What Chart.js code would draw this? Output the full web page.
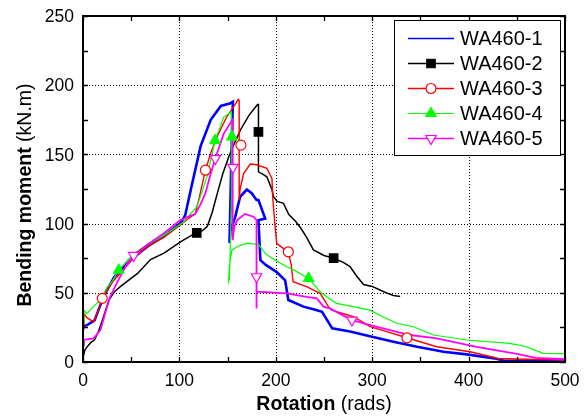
<!DOCTYPE html>
<html><head><meta charset="utf-8">
<script src="https://cdn.jsdelivr.net/npm/chart.js@4"></script>
<style>html,body{margin:0;padding:0;background:#fff}canvas{display:block}</style>
</head><body>
<canvas id="c" width="584" height="419"></canvas>
<script>
// ---- data (rotation in rads, bending moment in kN.m) ----
const seriesNames = ['WA460-1', 'WA460-2', 'WA460-3', 'WA460-4', 'WA460-5'];

const wa1 = [[0,25.6],[5,27],[12,30],[19,43],[25,52],[32.5,61.6],[50,74],[67,83.5],[84,91],[101.5,100.6],[106,106],
  [112,125],[122,156],[132.5,175],[143,185],[153,187],[155.5,188],[154,150],[152,86],[153,95],[158,105],[163,119.4],
  [170,124.6],[175,122],[180,117],[182,117],[189,103.7],[182,102.5],[184,73.6],[190,70],[201,65],[209.7,59],[213,44.8],
  [228.7,40],[240,38],[248,36.3],[258.5,24.3],[277,22],[301,18],[322,14.7],[346.5,11],[374,7.4],[398,5.5],[429,2.3],
  [436,1],[460,0.6],[500,0.4]];

const wa2 = [[0,3],[2,9],[8,14],[12,16],[16,22],[20,30],[27,45],[33,51],[39,54.6],[56.6,64],[70,74],[84,78.7],
  [101.5,87],[117,93.3],[124,95],[129,98],[134,108],[139.4,122],[145,136],[151.5,148.8],[157,158],[163.6,168],
  [172,178],[181,186],[182,186],[182,137.4],[186,136],[190.7,133.8],[196,124.6],[197.6,119.4],[201.5,116],[208,114.6],
  [213.5,106.5],[220,102],[225.7,97],[232,90],[239,81],[250,77],[260,75],[270,72],[277,69],[284,62],[291,56],
  [300,54.6],[308,52],[315.4,49.8],[322,48],[329,47.3]];

const wa3 = [[0,24],[1,35],[4,32],[11,29],[16,37.5],[20,46],[26,53],[32,59],[40,65],[52,75],[67,83.5],[84,90],
  [101,99],[110,104],[116.4,107],[121,120],[127,138.6],[133,152],[139,162.7],[149,177],[155,183],[161,189.7],
  [162,189],[162,117],[163,125],[166.5,136],[173.5,143],[180,142.5],[190.7,140],[196,132.6],[197,117],[199,100],
  [201,85.7],[206,83],[213,79.6],[216,70],[218,58],[232,54.4],[246,49.6],[254.6,40],[258,37.5],[280.5,32.7],
  [298,25.5],[315,22],[336,17.5],[367,11],[401.5,7.4],[425.7,3.4],[430,2.5],[460,2],[500,1.5]];

const wa4 = [[0,28],[1,37.5],[4,35],[11,40],[18,44.8],[25,54],[30,58],[37,66.4],[52.5,78.5],[67,85],[84,91.5],
  [104,101],[118,112],[123,122],[128.5,133.8],[137,160],[146,177],[153.7,180.7],[154,120],[152,60],[151,58],
  [152,70],[154.5,81],[162,84],[170,85.7],[182,85],[189,78.5],[196,75],[211.5,68.8],[220,66],[234,60.4],[246,50.8],
  [253,47],[263,42.4],[280,40],[298,37.5],[310,33],[325.5,28],[343,25.5],[363.5,19.5],[398,15.9],[443,13.5],
  [460,11],[477.5,6.3],[500,6]];

const wa5 = [[0,12],[1,16],[11,17],[18,23],[23,35],[28,47],[35,57],[45,70],[52.5,77],[67,85],[84,93],[101,102.5],
  [116.5,107],[122,114],[127,122],[132,135],[137.2,147],[146,165],[155,175],[155.5,140.6],[155,88],[157,98],
  [160,102.5],[168,107],[177,105],[180,102.5],[180,38.7],[180,50.8],[211.5,49.6],[232,47],[242.6,46],[249.5,40],
  [256,38.7],[279,30.3],[298,26.7],[339,19.5],[367,17],[408.5,11],[450,5.8],[470,3],[500,2]];

// symbol positions along each curve
const marks1 = [];
const marks2 = [[118,93.3],[182,166.3],[260,75]];
const marks3 = [[20,46],[127,138.6],[163.8,156.7],[213,79.6],[336,17.5]];
const marks4 = [[37,66.4],[137,160],[154.5,162.7],[234,60.4]];
const marks5 = [[52.5,77],[137.2,147],[155.5,140.6],[180,61.6],[279,30.3]];

const xTickValues = [0, 100, 200, 300, 400, 500];
const yTickValues = [0, 50, 100, 150, 200, 250];
const xTitleBold = 'Rotation', xTitleUnit = ' (rads)';
const yTitleBold = 'Bending moment', yTitleUnit = ' (kN.m)';

// ---- styles ----
const styles = [
  {color:'#0000FF', width:2.6, style:false, rot:0, r:0, fill:'#0000FF'},
  {color:'#000000', width:1.5, style:'rect', rot:0, r:6, fill:'#000000'},
  {color:'#FF0000', width:1.4, style:'circle', rot:0, r:5, fill:'#FFFFFF'},
  {color:'#00FF00', width:1.2, style:'triangle', rot:0, r:6, fill:'#00FF00'},
  {color:'#FF00FF', width:1.8, style:'triangle', rot:180, r:6, fill:'#FFFFFF'}
];
const lines = [wa1, wa2, wa3, wa4, wa5];
const marks = [marks1, marks2, marks3, marks4, marks5];
const toXY = a => a.map(p => ({x:p[0], y:p[1]}));

const datasets = [];
lines.forEach((d, i) => {
  datasets.push({label: seriesNames[i], data: toXY(d), showLine: true, borderColor: styles[i].color,
    borderWidth: styles[i].width, pointRadius: 0, tension: 0, order: 10 + (4 - i)});
});
marks.forEach((d, i) => {
  if (!d.length) return;
  datasets.push({label: seriesNames[i] + ' symbols', data: toXY(d), showLine: false,
    pointStyle: styles[i].style, pointRotation: styles[i].rot, pointRadius: styles[i].r,
    pointBackgroundColor: styles[i].fill, pointBorderColor: styles[i].color, pointBorderWidth: 1.2, order: 4 - i});
});

const FONT = '"Liberation Sans", Arial, sans-serif';
const TICK_SIZE = 17.5;

const dottedGrid = {
  id: 'dottedGrid',
  beforeDatasetsDraw(chart) {
    const {ctx, chartArea: a, scales: {x, y}} = chart;
    ctx.save();
    ctx.strokeStyle = '#000'; ctx.lineWidth = 1;
    ctx.setLineDash([1, 2]);
    ctx.beginPath();
    xTickValues.slice(1, -1).forEach(v => {
      const px = Math.round(x.getPixelForValue(v)) + 0.5;
      ctx.moveTo(px, a.bottom); ctx.lineTo(px, a.top);
    });
    yTickValues.slice(1, -1).forEach(v => {
      const py = Math.round(y.getPixelForValue(v)) + 0.5;
      ctx.moveTo(a.left, py); ctx.lineTo(a.right, py);
    });
    ctx.stroke();
    ctx.restore();
  }
};

const decor = {
  id: 'decor',
  afterDatasetsDraw(chart) {
    const {ctx, chartArea: a, scales: {x, y}} = chart;
    ctx.save();
    // frame
    ctx.strokeStyle = '#000'; ctx.lineWidth = 2;
    ctx.strokeRect(a.left, a.top, a.right - a.left, a.bottom - a.top);
    // inward ticks (major + minor)
    ctx.lineWidth = 1.3;
    ctx.beginPath();
    for (let i = 0; i < xTickValues.length; i++) {
      const vals = [xTickValues[i]];
      if (i < xTickValues.length - 1) vals.push((xTickValues[i] + xTickValues[i + 1]) / 2);
      vals.forEach(v => {
        const px = Math.round(x.getPixelForValue(v)) + 0.5;
        ctx.moveTo(px, a.bottom); ctx.lineTo(px, a.bottom - 5);
        ctx.moveTo(px, a.top); ctx.lineTo(px, a.top + 5);
      });
    }
    for (let i = 0; i < yTickValues.length; i++) {
      const vals = [yTickValues[i]];
      if (i < yTickValues.length - 1) vals.push((yTickValues[i] + yTickValues[i + 1]) / 2);
      vals.forEach(v => {
        const py = Math.round(y.getPixelForValue(v)) + 0.5;
        ctx.moveTo(a.left, py); ctx.lineTo(a.left + 5, py);
        ctx.moveTo(a.right, py); ctx.lineTo(a.right - 5, py);
      });
    }
    ctx.stroke();

    // tick labels
    ctx.fillStyle = '#000';
    ctx.font = TICK_SIZE + 'px ' + FONT;
    ctx.textBaseline = 'alphabetic';
    ctx.textAlign = 'center';
    xTickValues.forEach(v => ctx.fillText(String(v), x.getPixelForValue(v), a.bottom + 24));
    ctx.textAlign = 'right';
    yTickValues.forEach(v => ctx.fillText(String(v), a.left - 9, y.getPixelForValue(v) + 0.358 * TICK_SIZE));

    // axis titles
    const drawTitle = (bold, unit, cx, baseY) => {
      ctx.font = 'bold 19.5px ' + FONT;
      const wb = ctx.measureText(bold).width;
      ctx.font = '19.5px ' + FONT;
      const wu = ctx.measureText(unit).width;
      let sx = cx - (wb + wu) / 2;
      ctx.textAlign = 'left'; ctx.textBaseline = 'alphabetic';
      ctx.font = 'bold 19.5px ' + FONT; ctx.fillText(bold, sx, baseY);
      ctx.font = '19.5px ' + FONT; ctx.fillText(unit, sx + wb, baseY);
    };
    drawTitle(xTitleBold, xTitleUnit, (a.left + a.right) / 2, 410);
    ctx.save();
    ctx.translate(31, 195);
    ctx.rotate(-Math.PI / 2);
    drawTitle(yTitleBold, yTitleUnit, 0, 0);
    ctx.restore();

    // legend
    const lx = 394.5, ly = 20.5, lw = 166, lh = 135;
    ctx.fillStyle = '#fff';
    ctx.fillRect(lx, ly, lw, lh);
    ctx.strokeStyle = '#000'; ctx.lineWidth = 1;
    ctx.strokeRect(lx, ly, lw, lh);
    seriesNames.forEach((name, i) => {
      const cy = 38.5 + 25 * i;
      const s = styles[i];
      ctx.strokeStyle = s.color; ctx.lineWidth = Math.min(s.width, 1.5);
      ctx.beginPath(); ctx.moveTo(408, cy); ctx.lineTo(454, cy); ctx.stroke();
      if (s.style) {
        ctx.fillStyle = s.fill; ctx.strokeStyle = s.color; ctx.lineWidth = 1.2;
        Chart.helpers.drawPoint(ctx, {pointStyle: s.style, rotation: s.rot, radius: s.r, borderWidth: 1.2}, 431, cy);
      }
      ctx.fillStyle = '#000';
      ctx.font = '20px ' + FONT;
      ctx.textAlign = 'left'; ctx.textBaseline = 'middle';
      ctx.fillText(name, 460, cy + 1);
    });
    ctx.restore();
  }
};

new Chart(document.getElementById('c'), {
  type: 'scatter',
  data: {datasets},
  options: {
    responsive: false, animation: false, devicePixelRatio: 1,
    layout: {padding: {top: 16, right: 19, left: 0, bottom: 0}},
    plugins: {legend: {display: false}, tooltip: {enabled: false}},
    scales: {
      x: {
        type: 'linear', min: 0, max: 500,
        afterBuildTicks: s => { s.ticks = xTickValues.map(v => ({value: v})); },
        afterFit: s => { s.height = 57; },
        grid: {display: false},
        border: {display: false},
        ticks: {display: false}
      },
      y: {
        type: 'linear', min: 0, max: 250,
        afterBuildTicks: s => { s.ticks = yTickValues.map(v => ({value: v})); },
        afterFit: s => { s.width = 83; },
        grid: {display: false},
        border: {display: false},
        ticks: {display: false}
      }
    }
  },
  plugins: [dottedGrid, decor]
});
</script>
</body></html>
